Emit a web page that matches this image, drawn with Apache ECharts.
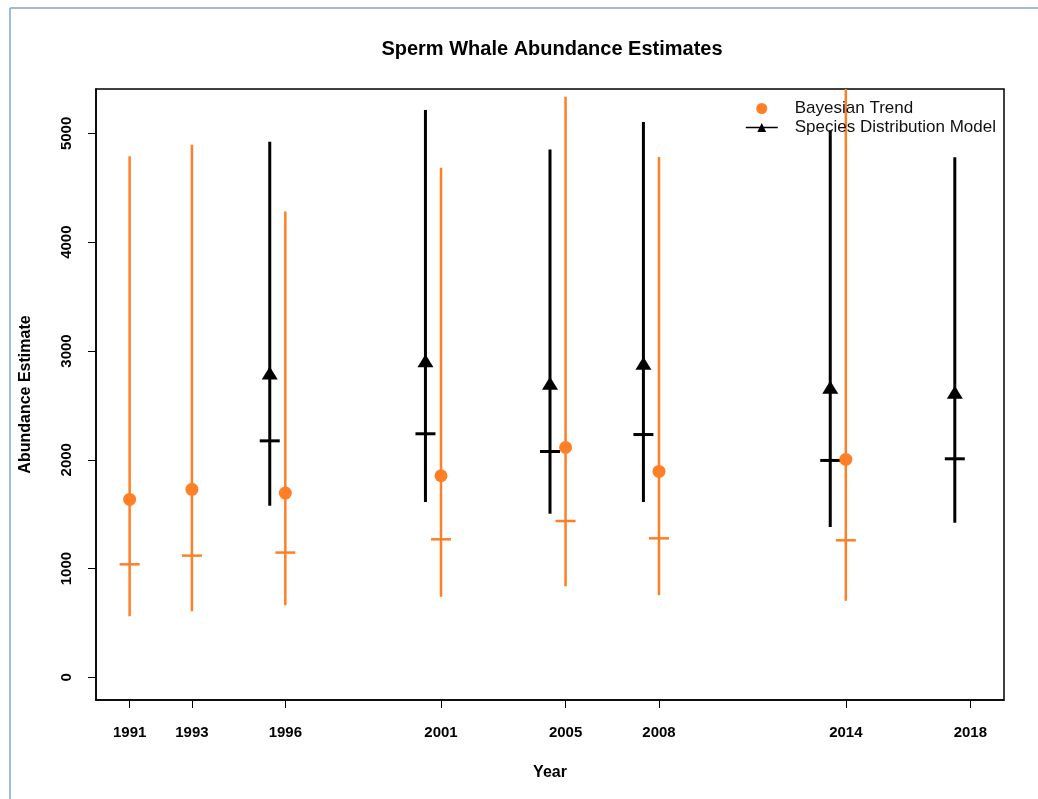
<!DOCTYPE html>
<html>
<head>
<meta charset="utf-8">
<script src="https://cdn.jsdelivr.net/npm/echarts@6/dist/echarts.min.js"></script>
<style>
  html, body { margin: 0; padding: 0; background: #fff; }
  #chart { width: 1038px; height: 799px; }
</style>
</head>
<body>
<div id="chart"></div>
<script>
// ---- data ----
const tickYears = [1991, 1993, 1996, 2001, 2005, 2008, 2014, 2018];
const yTicks = [0, 1000, 2000, 3000, 4000, 5000];

const bayesYears  = [1991, 1993, 1996, 2001, 2005, 2008, 2014];
const bayesMean   = [1636, 1728, 1694, 1853, 2113, 1893, 2003];
const bayesMedian = [1039, 1119, 1147, 1269, 1437, 1278, 1260];
const bayesLow    = [562, 608, 663, 740, 838, 755, 704];
const bayesHigh   = [4789, 4896, 4281, 4685, 5337, 4783, 5600];

const sdmYears  = [1996, 2001, 2005, 2008, 2014, 2018];
const sdmOffset = -0.5;
const sdmMean   = [2798, 2911, 2703, 2887, 2667, 2621];
const sdmMedian = [2174, 2239, 2076, 2232, 1994, 2009];
const sdmLow    = [1578, 1612, 1505, 1612, 1382, 1422];
const sdmHigh   = [4924, 5214, 4853, 5104, 5030, 4780];

const ORANGE = '#FF7F27';
const BLACK = '#000000';
const FONT = "'Liberation Sans', Arial, sans-serif";

function errorData(xs, lo, hi, med, off) {
  return xs.map((x, i) => [x + off, lo[i], hi[i], med[i]]);
}
function errorRenderer(color, width, tickHalf) {
  return function (params, api) {
    const x = api.value(0);
    const pLo = api.coord([x, api.value(1)]);
    const pHi = api.coord([x, api.value(2)]);
    const pMed = api.coord([x, api.value(3)]);
    const style = { stroke: color, lineWidth: width };
    return {
      type: 'group',
      children: [
        { type: 'line', shape: { x1: pLo[0], y1: pLo[1], x2: pHi[0], y2: pHi[1] }, style },
        { type: 'line', shape: { x1: pMed[0] - tickHalf, y1: pMed[1], x2: pMed[0] + tickHalf, y2: pMed[1] }, style }
      ]
    };
  };
}

const chart = echarts.init(document.getElementById('chart'), null, { renderer: 'canvas' });

chart.setOption({
  animation: false,
  backgroundColor: '#fff',
  textStyle: { fontFamily: FONT },
  title: {
    text: 'Sperm Whale Abundance Estimates',
    left: 547, top: 34, textAlign: 'center',
    textStyle: { fontFamily: FONT, fontWeight: 'bold', fontSize: 20, color: '#000' }
  },
  graphic: [
    { type: 'line', shape: { x1: 10, y1: 8, x2: 1038, y2: 8 }, style: { stroke: '#7FA3D6', lineWidth: 1.5 } },
    { type: 'line', shape: { x1: 10, y1: 8, x2: 10, y2: 799 }, style: { stroke: '#7FA3D6', lineWidth: 1.5 } }
  ],
  legend: {
    orient: 'vertical',
    left: 745, top: 99, padding: 0,
    itemWidth: 32, itemHeight: 11, itemGap: 0,
    data: ['Bayesian Trend', 'Species Distribution Model'],
    lineStyle: { width: 1.5, color: '#000', opacity: 1 },
    textStyle: { fontFamily: FONT, fontSize: 17, lineHeight: 19, color: '#111', padding: [0, 0, 0, 12] }
  },
  grid: {
    left: 96, right: 34, top: 89, bottom: 99,
    show: true, borderColor: '#000', borderWidth: 1.5, backgroundColor: '#fff'
  },
  xAxis: {
    type: 'value', min: 1989.92, max: 2019.08,
    name: 'Year', nameLocation: 'middle', nameGap: 65,
    nameTextStyle: { fontFamily: FONT, fontWeight: 'bold', fontSize: 16, color: '#000' },
    axisLine: { show: true, onZero: false, lineStyle: { color: '#000', width: 1.5 } },
    axisTick: { show: true, length: 8, customValues: tickYears, lineStyle: { color: '#000', width: 1 } },
    axisLabel: {
      customValues: tickYears, margin: 25,
      fontFamily: FONT, fontWeight: 'bold', fontSize: 15, color: '#000',
      formatter: v => String(v)
    },
    splitLine: { show: false }
  },
  yAxis: {
    type: 'value', min: -208, max: 5408,
    name: 'Abundance Estimate', nameLocation: 'middle', nameGap: 62,
    nameTextStyle: { fontFamily: FONT, fontWeight: 'bold', fontSize: 16, color: '#000' },
    axisLine: { show: true, onZero: false, lineStyle: { color: '#000', width: 1.5 } },
    axisTick: { show: true, length: 8, customValues: yTicks, lineStyle: { color: '#000', width: 1 } },
    axisLabel: {
      customValues: yTicks, rotate: 90, margin: 22,
      fontFamily: FONT, fontWeight: 'bold', fontSize: 15, color: '#000',
      formatter: v => String(v)
    },
    splitLine: { show: false }
  },
  series: [
    {
      name: 'SDM bars', type: 'custom', clip: true, z: 2,
      renderItem: errorRenderer(BLACK, 3, 10),
      data: errorData(sdmYears, sdmLow, sdmHigh, sdmMedian, sdmOffset),
      encode: { x: 0, y: [1, 2, 3] }, silent: true
    },
    {
      name: 'Bayesian bars', type: 'custom', clip: true, z: 3,
      renderItem: errorRenderer(ORANGE, 2.5, 10),
      data: errorData(bayesYears, bayesLow, bayesHigh, bayesMedian, 0),
      encode: { x: 0, y: [1, 2, 3] }, silent: true
    },
    {
      name: 'Species Distribution Model', type: 'line', z: 4,
      data: sdmYears.map((y, i) => [y + sdmOffset, sdmMean[i]]),
      symbol: 'triangle', symbolSize: [16, 13], showSymbol: true,
      itemStyle: { color: BLACK },
      lineStyle: { width: 0, opacity: 0, color: BLACK }
    },
    {
      name: 'Bayesian Trend', type: 'scatter', z: 5,
      data: bayesYears.map((y, i) => [y, bayesMean[i]]),
      symbol: 'circle', symbolSize: 13,
      itemStyle: { color: ORANGE, opacity: 1 }
    }
  ]
});
</script>
</body>
</html>
